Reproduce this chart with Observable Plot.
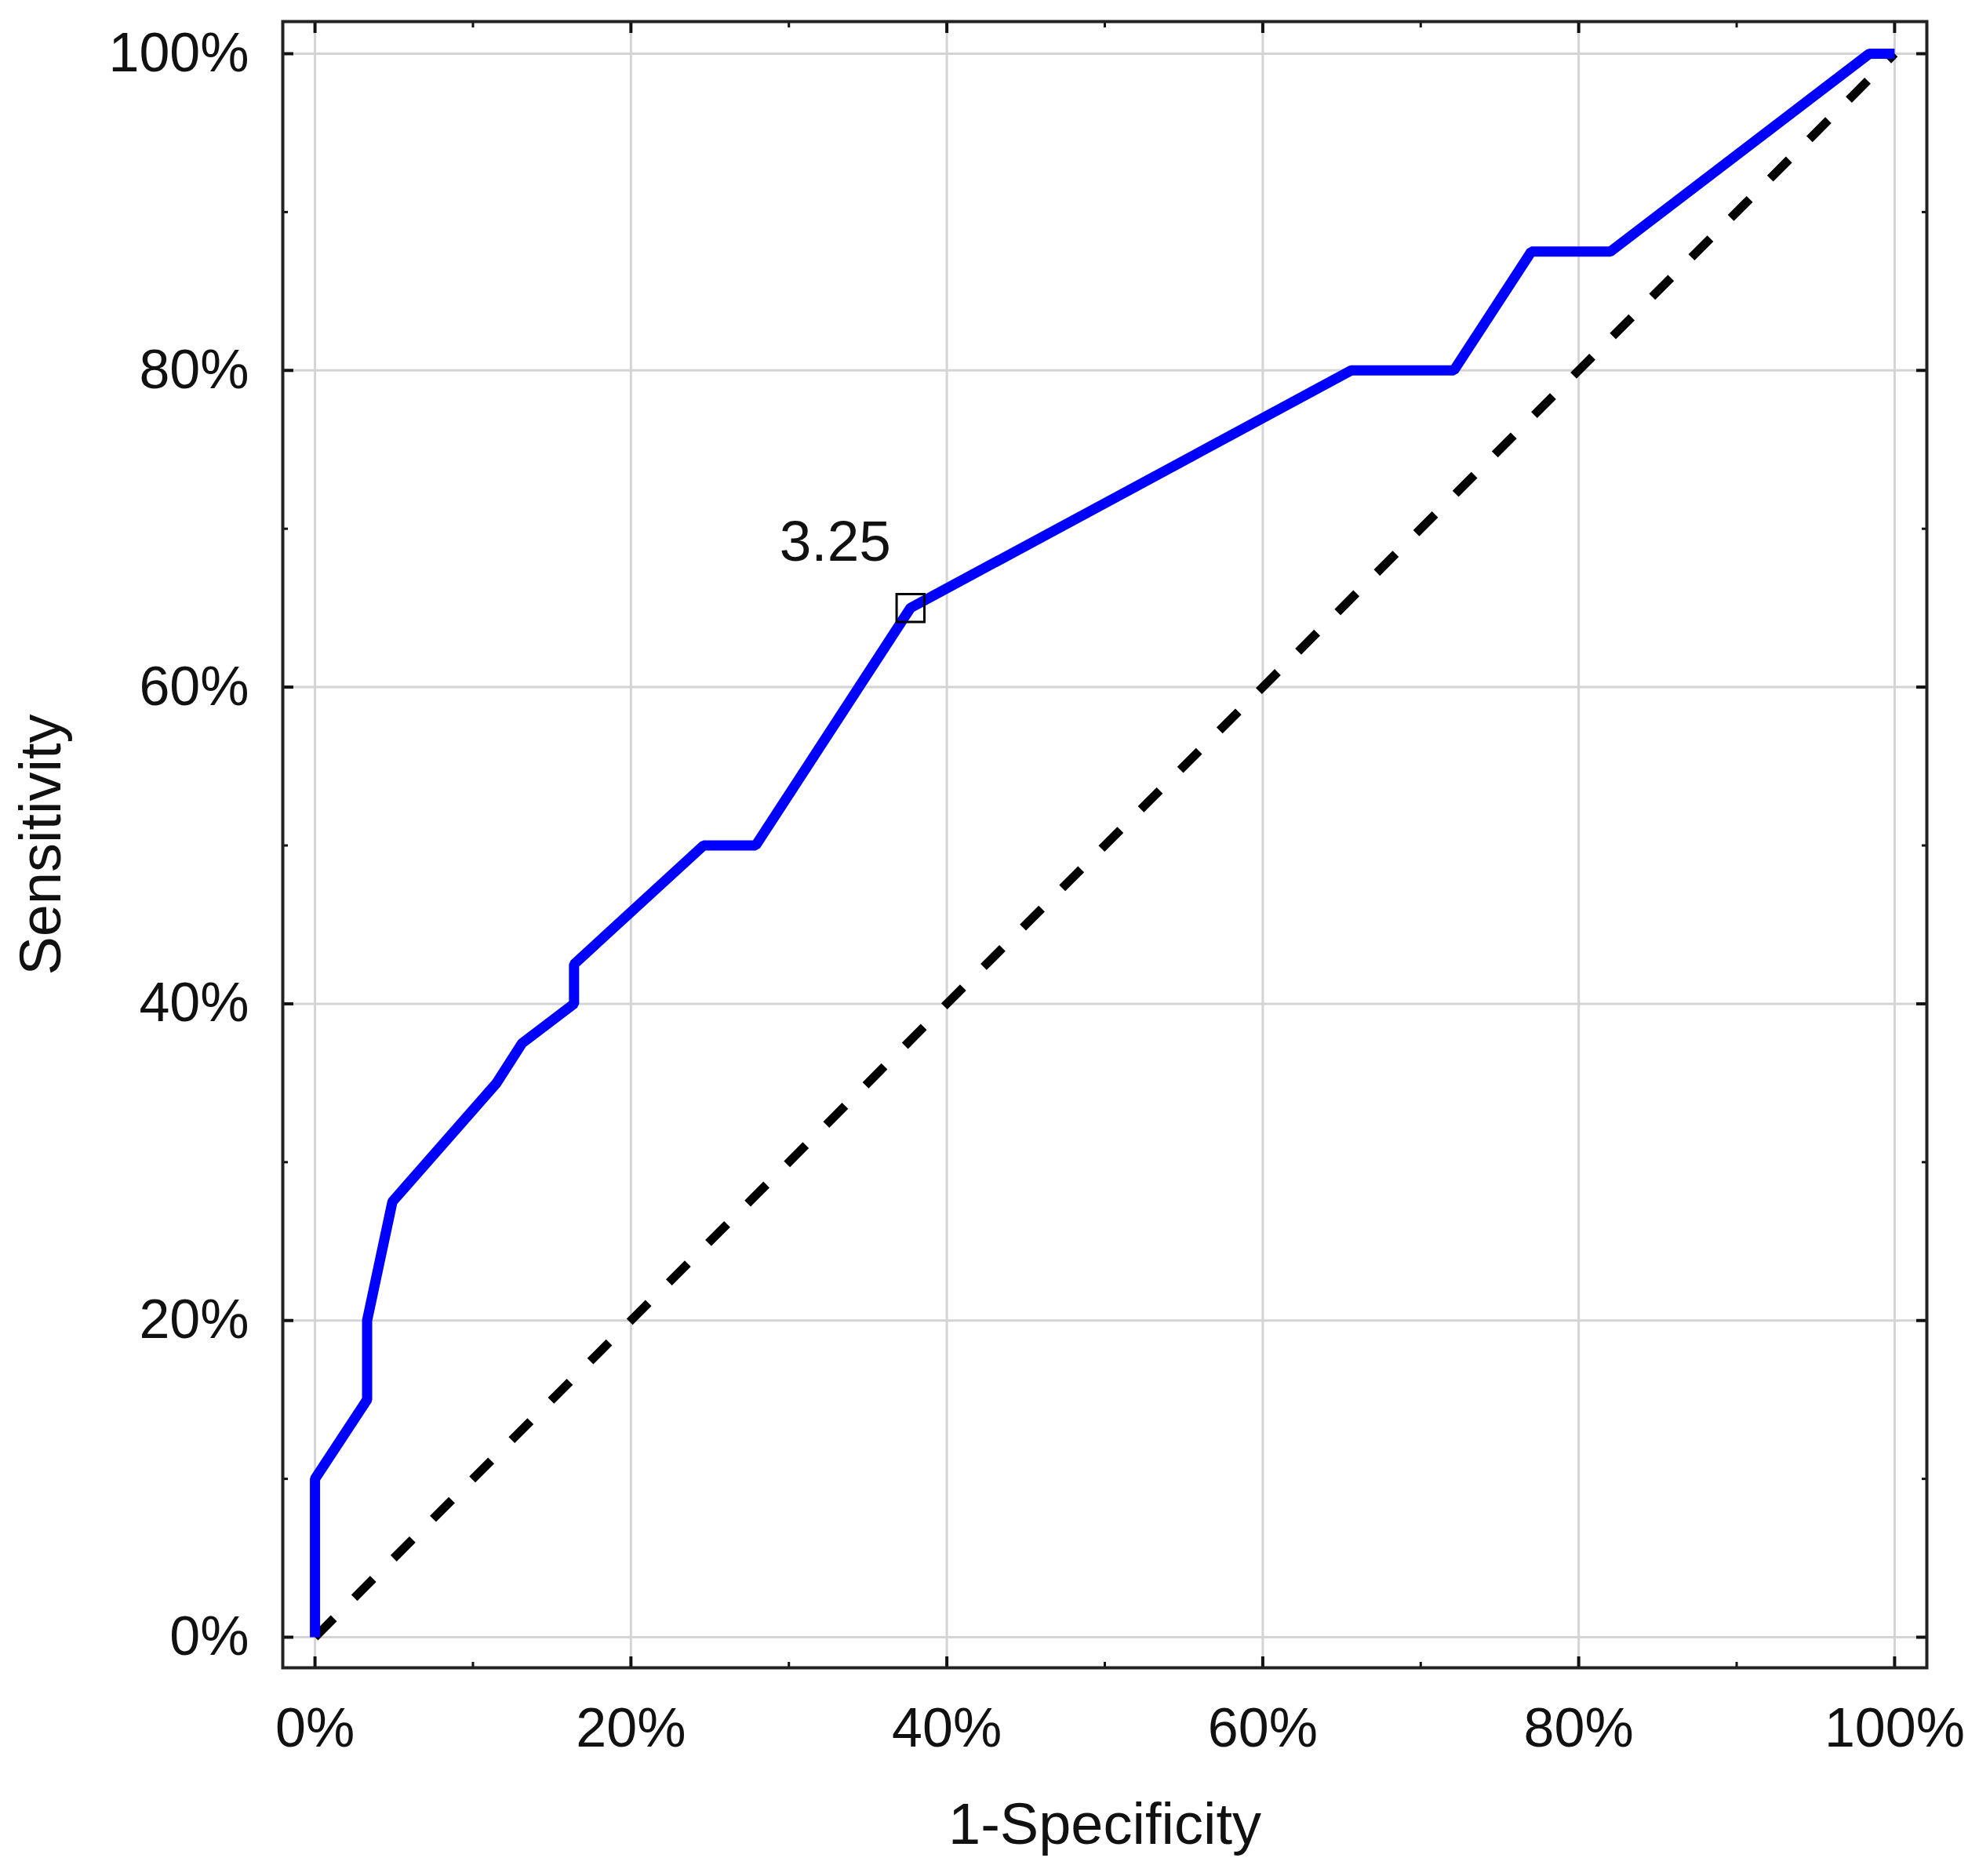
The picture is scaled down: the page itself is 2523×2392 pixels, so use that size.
<!DOCTYPE html>
<html>
<head>
<meta charset="utf-8">
<script src="https://cdn.jsdelivr.net/npm/d3@7"></script>
<script src="https://cdn.jsdelivr.net/npm/@observablehq/plot@0.6"></script>
<style>
  html, body { margin: 0; padding: 0; background: white; }
</style>
</head>
<body>
<div id="chart"></div>
<script>
// ROC curve data (percent)
const fpr = [0, 0, 3.3, 3.3, 4.9, 11.5, 13.1, 16.4, 16.4, 24.6, 27.9, 37.7, 65.6, 72.1, 77.0, 82.0, 98.4, 100];
const tpr = [0, 10, 15, 20, 27.5, 35, 37.5, 40, 42.5, 50, 50, 65, 80, 80, 87.5, 87.5, 100, 100];
// reference diagonal
const refX = [0, 100];
const refY = [0, 100];
// cut-off point
const cutX = [37.7];
const cutY = [65];
const cutLabel = ["3.25"];
// ticks
const majorTicks = [0, 20, 40, 60, 80, 100];
const minorTicks = [10, 30, 50, 70, 90];
const xTitle = "1-Specificity";
const yTitle = "Sensitivity";

const curve = fpr.map((x, i) => ({x, y: tpr[i]}));
const diag = refX.map((x, i) => ({x, y: refY[i]}));
const cut = cutX.map((x, i) => ({x, y: cutY[i], label: cutLabel[i]}));

const font = "'Liberation Sans', Arial, sans-serif";
const pct = d => d + "%";

const chart = Plot.plot({
  width: 2523,
  height: 2392,
  marginLeft: 360,
  marginRight: 67,
  marginTop: 27,
  marginBottom: 266,
  x: {domain: [-2.04, 102.04]},
  y: {domain: [-1.93, 102.03]},
  style: {fontFamily: font, fontSize: "70px", color: "#111", background: "white"},
  marks: [
    Plot.gridX(majorTicks, {stroke: "#d4d4d4", strokeOpacity: 1, strokeWidth: 3}),
    Plot.gridY(majorTicks, {stroke: "#d4d4d4", strokeOpacity: 1, strokeWidth: 3}),
    // inward major ticks on all sides
    Plot.axisX(majorTicks, {anchor: "bottom", tickSize: -14, strokeWidth: 4, fill: "none", label: null}),
    Plot.axisX(majorTicks, {anchor: "top", tickSize: -14, strokeWidth: 4, fill: "none", label: null}),
    Plot.axisY(majorTicks, {anchor: "left", tickSize: -14, strokeWidth: 4, fill: "none", label: null}),
    Plot.axisY(majorTicks, {anchor: "right", tickSize: -14, strokeWidth: 4, fill: "none", label: null}),
    // inward minor ticks
    Plot.axisX(minorTicks, {anchor: "bottom", tickSize: -7, strokeWidth: 3, fill: "none", label: null}),
    Plot.axisX(minorTicks, {anchor: "top", tickSize: -7, strokeWidth: 3, fill: "none", label: null}),
    Plot.axisY(minorTicks, {anchor: "left", tickSize: -7, strokeWidth: 3, fill: "none", label: null}),
    Plot.axisY(minorTicks, {anchor: "right", tickSize: -7, strokeWidth: 3, fill: "none", label: null}),
    // tick labels
    Plot.axisX(majorTicks, {anchor: "bottom", tickSize: 0, tickPadding: 51, tickFormat: pct, label: null, fill: "#111"}),
    Plot.axisY(majorTicks, {anchor: "left", tickSize: 0, tickPadding: 43, tickFormat: pct, label: null, fill: "#111"}),
    // diagonal reference
    Plot.line(diag, {x: "x", y: "y", stroke: "black", strokeWidth: 11, strokeDasharray: "34,37", strokeLinecap: "butt"}),
    // ROC curve
    Plot.line(curve, {x: "x", y: "y", stroke: "#0000ff", strokeWidth: 13, strokeLinejoin: "miter", strokeLinecap: "butt"}),
    // cut-off marker
    Plot.dot(cut, {x: "x", y: "y", symbol: "square", r: 20, stroke: "black", strokeWidth: 3, fill: "none"}),
    Plot.text(cut, {x: "x", y: "y", text: "label", dx: -96, dy: -84, fontSize: 73, fill: "#111"}),
    // axis titles
    Plot.text([xTitle], {frameAnchor: "bottom", text: d => d, dy: 224, fontSize: 74, fill: "#111"}),
    Plot.text([yTitle], {frameAnchor: "left", textAnchor: "middle", lineAnchor: "middle", text: d => d, rotate: -90, dx: -307, fontSize: 74, fill: "#111"}),
    Plot.frame({stroke: "#222", strokeWidth: 4})
  ]
});
document.getElementById("chart").appendChild(chart);
</script>
</body>
</html>
